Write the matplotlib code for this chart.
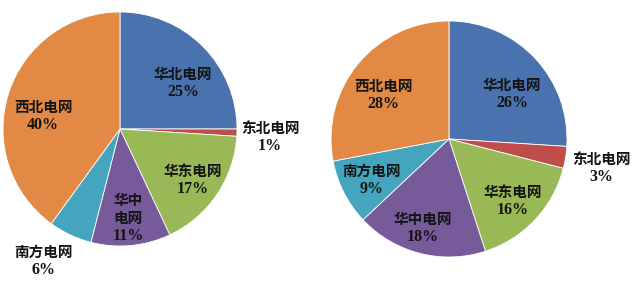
import matplotlib
matplotlib.use("Agg")
import matplotlib.pyplot as plt

# ---- data ----
categories = ["华北电网", "东北电网", "华东电网", "华中电网", "南方电网", "西北电网"]
left_values = [25, 1, 17, 11, 6, 40]
right_values = [26, 3, 16, 18, 9, 28]
left_names = ["华北电网", "东北电网", "华东电网", "华中\n电网", "南方电网", "西北电网"]
right_names = categories

colors = ["#4A72AE", "#BF4D4A", "#99B957", "#765A99", "#45A5BF", "#E28A45"]

# label anchor positions (in pie-radius units)
left_label_pos = [(0.538, 0.397), (1.282, -0.068), (0.624, -0.436),
                  (0.068, -0.761), (-0.658, -1.124), (-0.658, 0.111)]
right_label_pos = [(0.534, 0.381), (1.288, -0.246), (0.542, -0.525),
                   (-0.220, -0.754), (-0.653, -0.343), (-0.559, 0.369)]

W, H = 640, 299
fig = plt.figure(figsize=(W / 100, H / 100), dpi=100)
fig.patch.set_facecolor("white")

CJK = ["Noto Sans CJK SC", "DejaVu Sans"]
SERIF = ["Liberation Serif", "DejaVu Serif"]
TXT = "#141414"
FS = 10.5
FS_PCT = 11.5
LINE = 13  # points between lines


def draw_pie(cx, cy, r, values, names, label_pos):
    ax = fig.add_axes([(cx - r) / W, (H - cy - r) / H, 2 * r / W, 2 * r / H])
    ax.pie(values, colors=colors, startangle=90, counterclock=False,
           wedgeprops=dict(edgecolor="white", linewidth=0.6))
    ax.set_xlim(-1, 1)
    ax.set_ylim(-1, 1)
    ax.set_aspect("equal", adjustable="box")
    ax.axis("off")
    for name, val, (x, y) in zip(names, values, label_pos):
        lines = name.split("\n") + [f"{val}%"]
        n = len(lines)
        for i, line in enumerate(lines):
            off = ((n - 1) / 2 - i) * LINE
            is_pct = i == n - 1
            ax.annotate(line, xy=(x, y), xytext=(0, off), textcoords="offset points",
                        ha="center", va="center",
                        fontsize=FS_PCT if is_pct else FS, fontweight="bold",
                        family=SERIF if is_pct else CJK, color=TXT,
                        annotation_clip=False)
    return ax


draw_pie(120, 129, 117, left_values, left_names, left_label_pos)
draw_pie(449, 139, 118, right_values, right_names, right_label_pos)

fig.savefig("out.png", dpi=100, facecolor="white")
